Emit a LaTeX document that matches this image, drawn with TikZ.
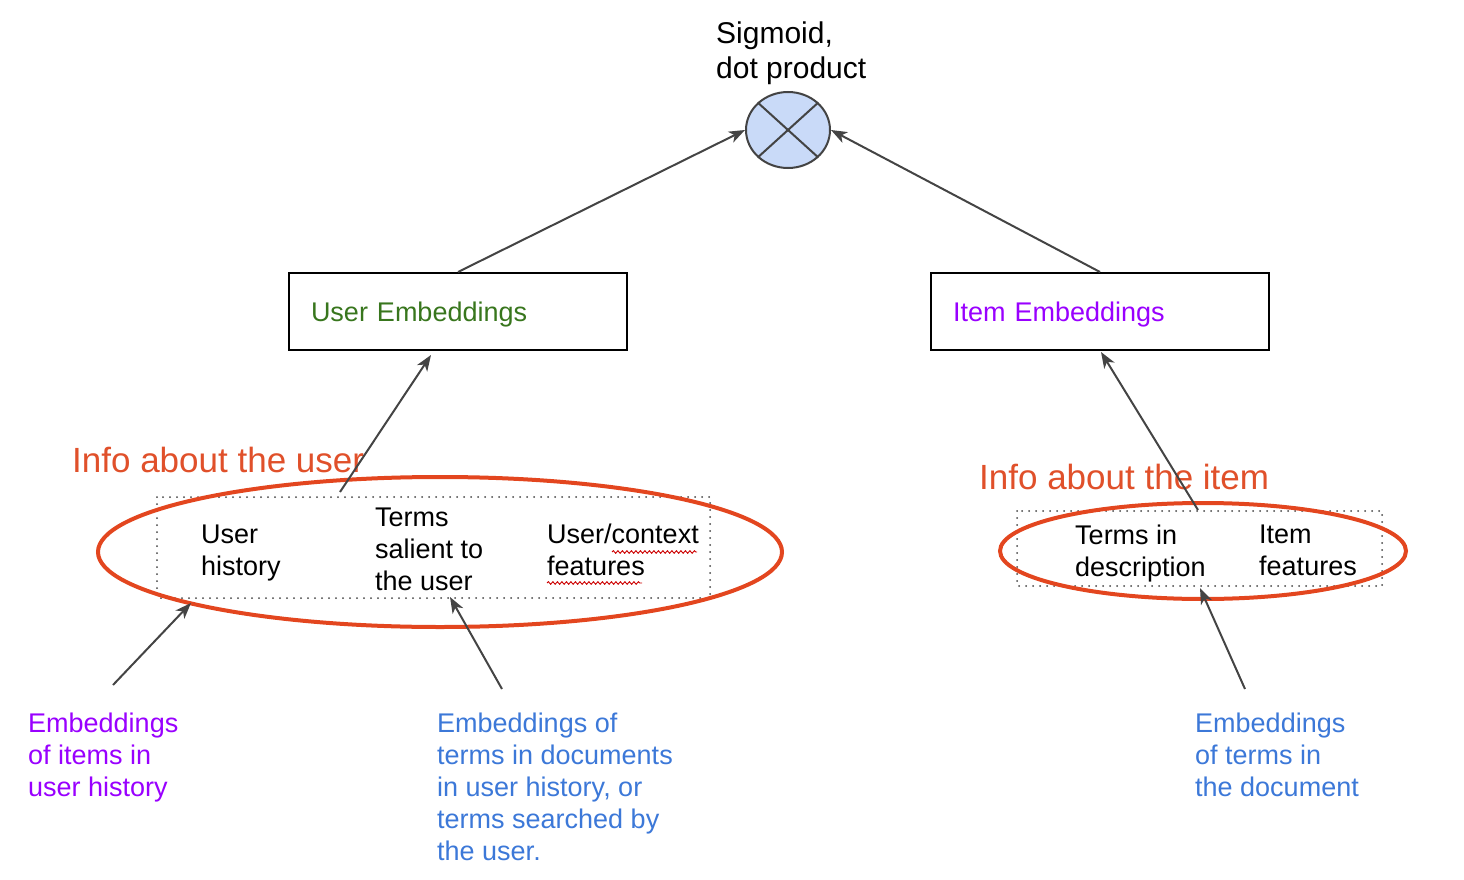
\documentclass[tikz,border=0pt]{standalone}
\usepackage{fontspec}
\setmainfont{Liberation Sans}
\usetikzlibrary{arrows.meta,shapes.geometric,decorations.pathmorphing}
\definecolor{arrowgray}{HTML}{444444}
\definecolor{ellred}{HTML}{E3461F}
\definecolor{infored}{HTML}{E0502A}
\definecolor{embgreen}{HTML}{38761D}
\definecolor{embpurple}{HTML}{9900FF}
\definecolor{embblue}{HTML}{3C78D8}
\definecolor{prodfill}{HTML}{C9DAF8}
\definecolor{prodline}{HTML}{434343}
\begin{document}
\begin{tikzpicture}[x=1pt,y=-1pt,
  lbl/.style={inner sep=0pt, anchor=north west, align=left, font=\fontsize{27}{32}\selectfont},
  infolbl/.style={inner sep=0pt, anchor=north west, text=infored, font=\fontsize{35}{40}\selectfont},
  conn/.style={draw=arrowgray, line width=2pt, -{Stealth[length=16pt,width=12pt,inset=4.5pt]}},
  embbox/.style={draw=black, line width=2pt, minimum width=338pt, minimum height=77pt, inner xsep=22pt, text width=294pt, align=left, font=\fontsize{27}{32}\selectfont},
  dotbox/.style={draw=arrowgray, line width=2pt, dash pattern=on 0pt off 7pt, line cap=round},
  redell/.style={draw=ellred, line width=4pt, ellipse, inner sep=0pt},
  spell/.style={draw=red!80!black, line width=0.9pt, decorate, decoration={snake, amplitude=1.3pt, segment length=4.5pt}}
]
\useasboundingbox (0,0) rectangle (1464,880);

% product node
\node[ellipse, draw=prodline, fill=prodfill, line width=2pt, minimum width=84pt, minimum height=76pt, inner sep=0pt] (prod) at (788,130) {};
\draw[prodline, line width=2pt] (prod.north west) -- (prod.south east);
\draw[prodline, line width=2pt] (prod.north east) -- (prod.south west);
\node[inner sep=0pt, anchor=north west, align=left, font=\fontsize{30}{35}\selectfont] (sig) at (716,22) {Sigmoid,\\dot product};

% embedding boxes
\node[embbox, text=embgreen] (ue) at (458,311.5) {\raisebox{-3.5pt}[\height][\depth]{User Embeddings}};
\node[embbox, text=embpurple] (ie) at (1100,311.5) {\raisebox{-3.5pt}[\height][\depth]{Item Embeddings}};

% user info
\draw[dotbox] (157,497) rectangle (710,598);
\node[redell, minimum width=684pt, minimum height=150pt] (uell) at (440,552) {};
\node[infolbl] (uinfo) at (72,447) {Info about the user};
\node[lbl] (uhist) at (201,525) {User\\history};
\node[lbl] (uterms) at (375,508) {Terms\\salient to\\the user};
\node[lbl] (ufeat) at (547,524) {User/context\\features};
\draw[spell] (612,552) -- (697,552);
\draw[spell] (547,583) -- (642,583);

% item info
\draw[dotbox] (1017,511) rectangle (1382,586);
\node[redell, minimum width=406pt, minimum height=96pt] (iell) at (1203,551) {};
\node[infolbl] (iinfo) at (979,464) {Info about the item};
\node[lbl] (iterms) at (1075,525) {Terms in\\description};
\node[lbl] (ifeat) at (1259,525) {Item\\features};

% bottom labels
\node[lbl, text=embpurple] (bitems) at (28,713) {Embeddings\\of items in\\user history};
\node[lbl, text=embblue] (bterms) at (437,713) {Embeddings of\\terms in documents\\in user history, or\\terms searched by\\the user.};
\node[lbl, text=embblue] (bdoc) at (1195,713) {Embeddings\\of terms in\\the document};

% connector coordinates
\coordinate (ustart) at (340,492);
\coordinate (uend) at (431,355);
\coordinate (istart) at (1198,510);
\coordinate (iend) at (1101,352);
\coordinate (b1s) at (113,685);
\coordinate (b1e) at (191,603);
\coordinate (b2s) at (502,689);
\coordinate (b2e) at (450,597);
\coordinate (b3s) at (1245,689);
\coordinate (b3e) at (1200,588);

% connectors
\draw[conn] (ue.north) -- (prod.west);
\draw[conn] (ie.north) -- (prod.east);
\draw[conn] (ustart) -- (uend);
\draw[conn] (istart) -- (iend);
\draw[conn] (b1s) -- (b1e);
\draw[conn] (b2s) -- (b2e);
\draw[conn] (b3s) -- (b3e);
\end{tikzpicture}
\end{document}
